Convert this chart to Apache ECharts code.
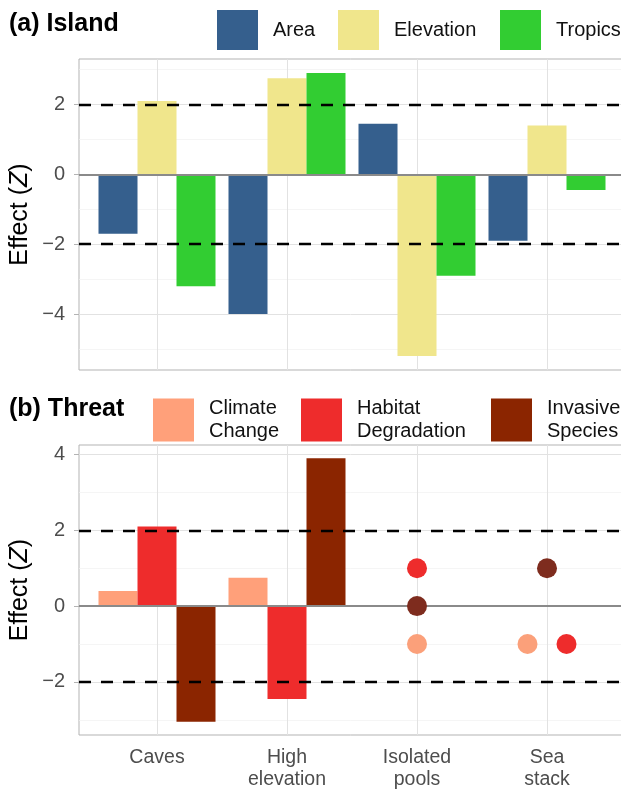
<!DOCTYPE html>
<html><head><meta charset="utf-8">
<script src="https://cdn.jsdelivr.net/npm/echarts@6/dist/echarts.min.js"></script>
<style>html,body{margin:0;padding:0;background:#fff}#c{width:621px;height:789px}</style>
</head><body><div id="c"></div>
<script>
// ---- data ----
const categories = ['Caves', 'High\nelevation', 'Isolated\npools', 'Sea\nstack'];
const islandNames = ['Area', 'Elevation', 'Tropics'];
const islandArea = [-1.7, -4.0, 1.45, -1.9];
const islandElevation = [2.1, 2.75, -5.2, 1.4];
const islandTropics = [-3.2, 2.9, -2.9, -0.45];
const threatNames = ['Climate Change', 'Habitat Degradation', 'Invasive Species'];
const threatClimate = [0.4, 0.75, -1, -1];
const threatHabitat = [2.1, -2.45, 1, -1];
const threatInvasive = [-3.05, 3.9, 0, 1];
const threatMark = ['bar', 'bar', 'point', 'point'];
const islandTicks = [-4, -2, 0, 2];
const threatTicks = [-2, 0, 2, 4];
const islandGridVals = [-5, -4, -3, -2, -1, 0, 1, 2, 3];
const threatGridVals = [-3, -2, -1, 0, 1, 2, 3, 4];
const thresholds = [-2, 2];

// ---- style ----
const FONT = 'Liberation Sans, Arial, Helvetica, sans-serif';
const islandColors = ['#355F8D', '#F0E68C', '#32CD32'];
const threatColors = ['#FFA07A', '#EE2C2C', '#8B2500'];
const pointColors = ['#FBA07A', '#EE2C2C', '#7E2C1E'];
const catPos = categories.map((c, i) => i + 1);
const dodge = 0.3;

const minus = v => String(v).replace('-', '\u2212');

function gridSeries(xi, vals) {
  const data = vals.map(v => ({ yAxis: v, lineStyle: { color: v % 2 ? '#f0f0f0' : '#e2e2e2', width: v % 2 ? 0.7 : 1, type: 'solid' } }))
    .concat(catPos.map(x => ({ xAxis: x, lineStyle: { color: '#e2e2e2', width: 1, type: 'solid' } })));
  return { type: 'line', xAxisIndex: xi, yAxisIndex: xi, data: [], silent: true,
    markLine: { silent: true, z: 1, symbol: ['none', 'none'], label: { show: false }, animation: false, data: data } };
}
function refSeries(xi) {
  const data = [{ yAxis: 0, lineStyle: { color: '#8a8a8a', width: 2, type: 'solid' } }]
    .concat(thresholds.map(v => ({ yAxis: v, lineStyle: { color: '#000', width: 2.4, type: [12, 10] } })));
  return { type: 'line', xAxisIndex: xi, yAxisIndex: xi, data: [], silent: true,
    markLine: { silent: true, z: 3, symbol: ['none', 'none'], label: { show: false }, animation: false, data: data } };
}

const series = [];
// island bars
[islandArea, islandElevation, islandTropics].forEach((vals, j) => {
  series.push({
    name: islandNames[j], type: 'bar', xAxisIndex: 0, yAxisIndex: 0, z: 2,
    barWidth: 39, barGap: '-100%',
    itemStyle: { color: islandColors[j] },
    data: vals.map((v, i) => [catPos[i] + (j - 1) * dodge, v])
  });
});
// threat bars & points
const threatVals = [threatClimate, threatHabitat, threatInvasive];
threatVals.forEach((vals, j) => {
  const barData = [], ptData = [];
  vals.forEach((v, i) => {
    if (threatMark[i] === 'bar') {
      barData.push([catPos[i] + (j - 1) * dodge, v]);
    } else {
      // dodge only points that overlap at the same value
      const same = threatVals.map((s, k) => k).filter(k => threatVals[k][i] === v);
      const idx = same.indexOf(j);
      const off = (idx - (same.length - 1) / 2) * dodge;
      ptData.push([catPos[i] + off, v]);
    }
  });
  series.push({
    name: threatNames[j], type: 'bar', xAxisIndex: 1, yAxisIndex: 1, z: 2,
    barWidth: 39, barGap: '-100%', itemStyle: { color: threatColors[j] }, data: barData
  });
  series.push({
    name: threatNames[j], type: 'scatter', xAxisIndex: 1, yAxisIndex: 1, z: 4,
    symbolSize: 20, itemStyle: { color: pointColors[j], opacity: 1 }, data: ptData
  });
});
series.push(gridSeries(0, islandGridVals), gridSeries(1, threatGridVals), refSeries(0), refSeries(1));

function xAxis(gi, labels) {
  return {
    gridIndex: gi, type: 'value', min: 0.4, max: 4.6,
    axisLine: { show: false },
    axisTick: { show: labels, customValues: catPos, length: 5, lineStyle: { color: '#b3b3b3' } },
    axisLabel: { show: labels, customValues: catPos, margin: 12, fontFamily: FONT, fontSize: 19.5, lineHeight: 22, color: '#4d4d4d',
      formatter: v => categories[Math.round(v) - 1] || '' },
    splitLine: { show: false }
  };
}
function yAxis(gi, min, max, ticks) {
  return {
    gridIndex: gi, type: 'value', min: min, max: max,
    name: 'Effect ({i|Z})', nameLocation: 'middle', nameGap: 46, nameMoveOverlap: false,
    nameTextStyle: { fontFamily: FONT, fontSize: 25, color: '#000',
      rich: { i: { fontFamily: FONT, fontSize: 25, fontStyle: 'italic', color: '#000' } } },
    axisLine: { show: false },
    axisTick: { show: true, customValues: ticks, length: 5, lineStyle: { color: '#b3b3b3' } },
    axisLabel: { customValues: ticks, margin: 14, fontFamily: FONT, fontSize: 20, color: '#4d4d4d', formatter: minus },
    splitLine: { show: false }
  };
}
function legend(name, left, top, h) {
  return {
    data: [name], left: left, top: top, padding: 0, itemWidth: 41, itemHeight: h, icon: 'rect', selectedMode: false,
    formatter: n => n.replace(' ', '\n'),
    textStyle: { fontFamily: FONT, fontSize: 20, lineHeight: 23, color: '#111', padding: [0, 0, 0, 10] }
  };
}

const option = {
  animation: false,
  backgroundColor: '#fff',
  title: [
    { text: '(a) Island', left: 4, top: 7, textStyle: { fontFamily: FONT, fontSize: 25, fontWeight: 'bold', color: '#000' } },
    { text: '(b) Threat', left: 4, top: 392, textStyle: { fontFamily: FONT, fontSize: 25, fontWeight: 'bold', color: '#000' } }
  ],
  legend: [
    legend(islandNames[0], 217, 10, 40), legend(islandNames[1], 338, 10, 40), legend(islandNames[2], 500, 10, 40),
    legend(threatNames[0], 153, 397, 43), legend(threatNames[1], 301, 397, 43), legend(threatNames[2], 491, 397, 43)
  ],
  grid: [
    { left: 79, top: 59, width: 546, height: 311, show: true, borderColor: '#b3b3b3', borderWidth: 1, backgroundColor: '#fff', outerBoundsMode: 'none', containLabel: false },
    { left: 79, top: 445, width: 546, height: 290, show: true, borderColor: '#b3b3b3', borderWidth: 1, backgroundColor: '#fff', outerBoundsMode: 'none', containLabel: false }
  ],
  xAxis: [xAxis(0, false), xAxis(1, true)],
  yAxis: [yAxis(0, -5.6, 3.3, islandTicks), yAxis(1, -3.4, 4.25, threatTicks)],
  series: series
};
const chart = echarts.init(document.getElementById('c'), null, { renderer: 'canvas' });
chart.setOption(option);
</script></body></html>
